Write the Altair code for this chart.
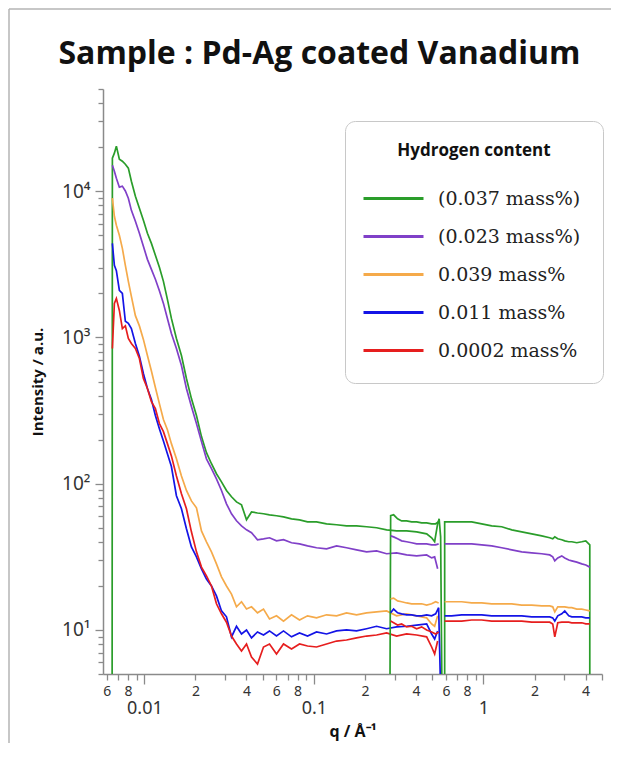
import altair as alt
import pandas as pd

# ---------------- series definition ----------------
SERIES = ["(0.037 mass%)", "(0.023 mass%)", "0.039 mass%", "0.011 mass%", "0.0002 mass%"]
COLORS = ["#2a9d2a", "#8040c8", "#f5aa4a", "#1414e6", "#e61e1e"]

BELOW = 1.0  # intensity below the axis range (drawn as a drop to the bottom)

# ---------------- low-q (SAXS) segment ----------------
Q_SAXS = [0.006474, 0.006652, 0.006835, 0.007118, 0.007414, 0.007722, 0.008042, 0.008381,
          0.008850, 0.009344, 0.009865, 0.01042, 0.01100, 0.01161, 0.01226, 0.01295, 0.01367,
          0.01443, 0.01545, 0.01654, 0.01770, 0.01894, 0.02028, 0.02171, 0.02323, 0.02487,
          0.02661, 0.02849, 0.03049, 0.03264, 0.03493, 0.03739, 0.04002, 0.04283, 0.04646,
          0.05041, 0.05469, 0.06014, 0.06614, 0.07375, 0.08223, 0.09168, 0.1036, 0.1187,
          0.1360, 0.1557, 0.1784, 0.2044, 0.2342, 0.2683, 0.3073, 0.3521, 0.4034, 0.4621,
          0.4946, 0.5151, 0.5365]

I_SAXS_GREEN = [16830, 18200, 20330, 16570, 16050, 15300, 14380, 11700, 9240, 7650, 6330, 5160,
                4400, 3650, 3020, 2420, 1820, 1350, 984, 753, 524, 382, 293, 210, 163, 137, 117,
                103, 89.9, 81.4, 75.1, 71.7, 56.7, 64.1, 63.1, 62.3, 61.3, 60.4, 59.4, 57.5, 56.6,
                54.9, 54.9, 53.2, 52.4, 51.5, 51.5, 50.8, 50.0, 48.4, 47.6, 47.6, 46.9, 45.4,
                42.7, 40.1, 53.2]
I_SAXS_PURPLE = [15070, 13710, 12280, 10660, 10830, 10040, 8960, 7400, 6240, 5160, 4200, 3420,
                 2920, 2500, 2090, 1710, 1350, 1065, 841, 643, 448, 337, 258, 194, 148, 127, 108,
                 89.9, 72.9, 62.3, 55.8, 51.5, 48.4, 46.2, 41.4, 42.0, 42.7, 40.7, 41.4, 39.5,
                 38.8, 37.6, 36.5, 35.9, 37.6, 36.5, 35.3, 34.2, 34.7, 33.2, 33.7, 32.6, 32.1,
                 32.6, 31.1, 31.6, 26.2]
I_SAXS_ORANGE = [8960, 6740, 5850, 5000, 4070, 3110, 2420, 1910, 1410, 1200, 970, 753, 590, 455,
                 353, 275, 234, 188, 148, 113, 89.9, 76.3, 68.5, 47.6, 40.1, 34.2, 28.3, 23.1,
                 20.0, 17.6, 14.4, 15.6, 13.9, 14.4, 13.1, 13.9, 11.9, 12.5, 11.5, 12.7, 11.7,
                 12.5, 12.1, 12.7, 12.5, 13.1, 12.7, 13.1, 13.3, 13.5, 12.5, 12.9, 12.5, 12.1,
                 11.0, 10.6, 12.5]
I_SAXS_BLUE = [4400, 3110, 2860, 2100, 2000, 1290, 1250, 1150, 910, 743, 567, 448, 376, 293, 238,
               196, 160, 131, 82.8, 67.4, 49.2, 37.0, 31.6, 26.2, 22.3, 20.0, 17.1, 13.5, 12.3,
               8.97, 10.6, 9.39, 10.0, 8.83, 9.69, 9.24, 9.85, 9.09, 9.85, 8.97, 9.54, 9.09, 9.69,
               9.39, 9.85, 10.0, 9.85, 10.2, 10.6, 10.2, 10.5, 10.6, 10.8, 11.0, 9.39, 8.68, 9.85]
I_SAXS_RED = [841, 1710, 1850, 1530, 1150, 1200, 984, 910, 841, 718, 524, 448, 364, 326, 258,
              227, 188, 155, 113, 85.4, 67.4, 46.9, 34.2, 26.9, 23.4, 20.0, 15.1, 12.9, 11.3,
              9.09, 8.02, 7.19, 8.02, 6.53, 5.85, 7.65, 8.02, 6.85, 8.02, 7.41, 8.02, 7.77, 7.65,
              8.02, 8.40, 8.54, 8.83, 9.09, 9.24, 9.54, 9.09, 9.39, 9.24, 8.97, 7.65, 6.85, 8.40]

GREEN_SAXS_START_Q = [0.006448]
GREEN_SAXS_END_Q = [0.5476, 0.5588, 0.5742]
GREEN_SAXS_END_I = [57.5, 43.3, BELOW]

# ---------------- middle segment ----------------
Q_MID = [0.2834, 0.2951, 0.3115, 0.3289, 0.3521, 0.3769, 0.4034, 0.4317, 0.4621, 0.4946,
         0.5222, 0.5439]
I_MID_GREEN = [60.4, 61.3, 57.5, 55.7, 55.7, 54.9, 54.9, 54.0, 54.0, 53.2, 53.2, 54.9]
I_MID_PURPLE = [44.0, 43.3, 42.0, 40.7, 40.1, 39.5, 38.8, 38.8, 38.8, 38.2, 38.2, 38.8]
I_MID_ORANGE = [16.3, 16.5, 15.8, 15.6, 15.3, 15.1, 15.1, 15.1, 14.8, 15.1, 15.6, 15.3]
I_MID_BLUE = [13.1, 13.9, 13.1, 12.9, 12.7, 12.7, 12.5, 12.5, 12.7, 12.5, 12.9, 14.2]
I_MID_RED = [11.5, 11.2, 10.8, 11.0, 10.5, 10.6, 10.2, 10.5, 10.0, 9.69, 9.39, 9.69]
GREEN_MID_START_Q = [0.2795]
BLUE_MID_END_Q = [0.5742]

# ---------------- high-q (WAXS) segment ----------------
Q_WAXS = [0.5902, 0.6491, 0.7434, 0.8518, 0.9759, 1.118, 1.281, 1.468, 1.681, 1.926, 2.206,
          2.459, 2.561, 2.633, 2.742, 2.895, 3.015, 3.184, 3.317, 3.550, 3.800, 4.012, 4.236]
I_WAXS_GREEN = [54.9, 54.9, 54.9, 54.9, 53.2, 51.5, 50.8, 48.4, 46.9, 45.4, 44.0, 42.7, 42.0,
                43.3, 42.0, 41.4, 40.7, 40.1, 40.1, 39.5, 40.1, 40.7, 38.2]
I_WAXS_PURPLE = [38.8, 38.8, 38.8, 38.8, 38.2, 37.6, 36.5, 35.3, 34.2, 33.7, 33.2, 32.6, 31.6,
                 29.7, 31.1, 32.1, 31.1, 30.1, 29.7, 29.1, 28.3, 27.8, 26.9]
I_WAXS_ORANGE = [15.6, 15.6, 15.6, 15.3, 15.3, 15.1, 15.1, 15.1, 14.8, 14.8, 14.6, 14.6, 14.4,
                 13.3, 14.4, 14.4, 14.4, 14.2, 14.2, 13.9, 13.9, 13.7, 13.5]
I_WAXS_BLUE = [12.5, 12.5, 12.7, 12.7, 12.7, 12.5, 12.5, 12.5, 12.5, 12.3, 12.3, 12.3, 12.1,
               11.5, 12.5, 12.9, 13.5, 12.5, 12.3, 12.3, 12.3, 12.1, 12.1]
I_WAXS_RED = [11.5, 11.5, 11.5, 11.7, 11.7, 11.5, 11.5, 11.5, 11.5, 11.3, 11.3, 11.3, 11.0,
              8.97, 11.2, 11.3, 11.3, 11.3, 11.2, 11.2, 11.2, 11.0, 11.0]
GREEN_WAXS_START_Q = [0.5902]
GREEN_WAXS_END_Q = [4.236]

# ---------------- axis ticks ----------------
X_TICKS = [0.006, 0.007, 0.008, 0.009, 0.01, 0.02, 0.03, 0.04, 0.05, 0.06, 0.07, 0.08, 0.09,
           0.1, 0.2, 0.3, 0.4, 0.5, 0.6, 0.7, 0.8, 0.9, 1, 2, 3, 4, 5]
Y_TICKS = [5, 6, 7, 8, 9, 10, 20, 30, 40, 50, 60, 70, 80, 90, 100, 200, 300, 400, 500, 600,
           700, 800, 900, 1000, 2000, 3000, 4000, 5000, 6000, 7000, 8000, 9000, 10000, 20000,
           30000, 40000, 50000]
X_DOMAIN = [0.0057, 5]
Y_DOMAIN = [5, 50000]

# ---------------- build table ----------------
rows = []


def add(series, seg, qs, vals):
    for k, (q, v) in enumerate(zip(qs, vals)):
        rows.append({"series": series, "seg": series + "|" + seg, "k": k, "q": q, "I": v})


g, p, o, b, r = SERIES
add(g, "saxs", GREEN_SAXS_START_Q + Q_SAXS + GREEN_SAXS_END_Q,
    [BELOW] + I_SAXS_GREEN + GREEN_SAXS_END_I)
add(p, "saxs", Q_SAXS, I_SAXS_PURPLE)
add(o, "saxs", Q_SAXS, I_SAXS_ORANGE)
add(b, "saxs", Q_SAXS, I_SAXS_BLUE)
add(r, "saxs", Q_SAXS, I_SAXS_RED)

add(g, "mid", GREEN_MID_START_Q + Q_MID, [BELOW] + I_MID_GREEN)
add(p, "mid", Q_MID, I_MID_PURPLE)
add(o, "mid", Q_MID, I_MID_ORANGE)
add(b, "mid", Q_MID + BLUE_MID_END_Q, I_MID_BLUE + [BELOW])
add(r, "mid", Q_MID, I_MID_RED)

add(g, "waxs", GREEN_WAXS_START_Q + Q_WAXS + GREEN_WAXS_END_Q,
    [BELOW] + I_WAXS_GREEN + [BELOW])
add(p, "waxs", Q_WAXS, I_WAXS_PURPLE)
add(o, "waxs", Q_WAXS, I_WAXS_ORANGE)
add(b, "waxs", Q_WAXS, I_WAXS_BLUE)
add(r, "waxs", Q_WAXS, I_WAXS_RED)

df = pd.DataFrame(rows)

DEC = "abs(log(datum.value)/LN10 - round(log(datum.value)/LN10)) < 0.001"
MANT = "round(datum.value / pow(10, floor(log(datum.value)/LN10 + 0.000001)))"

x_axis = alt.Axis(
    values=X_TICKS,
    labelExpr=f"({DEC}) ? toString(datum.value) : ((({MANT}) % 2 == 0) ? toString({MANT}) : '')",
    tickSize={"condition": {"test": DEC, "value": 10}, "value": 6},
    labelFontSize={"condition": {"test": DEC, "value": 18}, "value": 14},
    labelPadding={"condition": {"test": DEC, "value": 15}, "value": 4},
    labelFont="Noto Sans", labelColor="#333", labelFlush=False, labelOverlap=False,
    domainColor="#8a8a8a", domainWidth=1.5, tickColor="#8a8a8a", tickWidth=1.3, grid=False,
    titleFont="Open Sans", titleFontSize=16, titleFontWeight="bold", titleColor="#111",
    titlePadding=6,
)
y_axis = alt.Axis(
    values=Y_TICKS,
    labelExpr=f"({DEC}) ? '10' + ['⁰','¹','²','³','⁴','⁵'][round(log(datum.value)/LN10)] : ''",
    tickSize={"condition": {"test": DEC, "value": 8}, "value": 5},
    labelFont="Noto Sans", labelFontSize=19, labelColor="#333", labelPadding=5,
    labelOverlap=False, labelFlush=False,
    domainColor="#8a8a8a", domainWidth=1.5, tickColor="#8a8a8a", tickWidth=1.3, grid=False,
    titleFont="Open Sans", titleFontSize=15, titleFontWeight="bold", titleColor="#111",
    titlePadding=16,
)

legend = alt.Legend(
    title="Hydrogen content", orient="none", legendX=242, legendY=32,
    titleFont="Open Sans", titleFontSize=17, titleFontWeight="bold", titleColor="#111",
    titleAnchor="middle", titlePadding=29,
    labelFont="DejaVu Serif", labelFontSize=19, labelColor="#222", labelOffset=52,
    symbolType="M-2.6,0H9.4", symbolSize=100, symbolStrokeWidth=3,
    rowPadding=18, padding=22, cornerRadius=10, strokeColor="#c8c8c8", fillColor="white",
)

lines = alt.Chart(df).mark_line(clip=True, strokeWidth=1.7).encode(
    x=alt.X("q:Q", scale=alt.Scale(type="log", domain=X_DOMAIN, nice=False), axis=x_axis,
            title="q / Å⁻¹"),
    y=alt.Y("I:Q", scale=alt.Scale(type="log", domain=Y_DOMAIN, nice=False), axis=y_axis,
            title="Intensity / a.u."),
    color=alt.Color("series:N", scale=alt.Scale(domain=SERIES, range=COLORS), legend=legend),
    detail="seg:N",
    order="k:Q",
)

# decorative picture frame (left and top edges only, like the reference image border)
one = pd.DataFrame({"a": [0]})
frame_left = alt.Chart(one).mark_rule(color="#b4b4b4", strokeWidth=1.5).encode(
    x=alt.value(-94), x2=alt.value(-94), y=alt.value(-80), y2=alt.value(654))
frame_top = alt.Chart(one).mark_rule(color="#b4b4b4", strokeWidth=1.5).encode(
    x=alt.value(-94), x2=alt.value(508), y=alt.value(-80), y2=alt.value(-80))

chart = alt.layer(frame_left, frame_top, lines).properties(
    width=499, height=585, padding=0,
    title=alt.TitleParams("Sample : Pd-Ag coated Vanadium", font="Open Sans", fontSize=32,
                          fontWeight="bold", color="#111", anchor="middle", dx=-33, offset=-63),
).configure_view(strokeWidth=0)

chart.save("out.html", embed_options={"renderer": "svg", "actions": False})
